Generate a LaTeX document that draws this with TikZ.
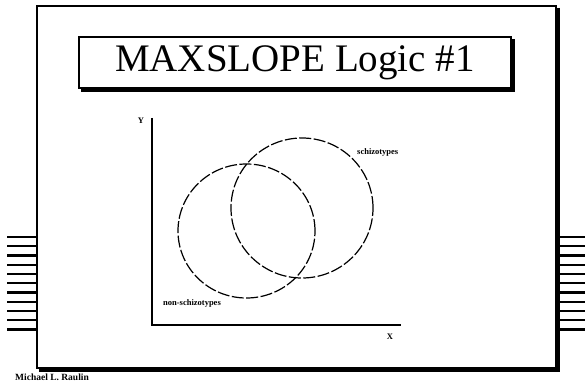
\documentclass[tikz,border=0pt]{standalone}
\usepackage{fontspec}
\setmainfont{Liberation Serif}
\usetikzlibrary{positioning,shapes.geometric}
\tikzset{
  slide/.style={draw=black, line width=2pt, inner sep=0pt},
  titlebox/.style={draw=black, line width=1.5pt, inner sep=0pt, font=\fontsize{39}{39}\selectfont},
  shadowline/.style={draw=black, line width=3pt},
  axisline/.style={draw=black, line width=2.5pt},
  groupset/.style={draw=black, ellipse, line width=1.2pt, dash pattern=on 12pt off 2.5pt, inner sep=0pt},
  tinylabel/.style={font=\fontsize{8.5}{9}\selectfont\bfseries, inner sep=0pt},
  tooth/.style={draw=black, line width=2.2pt}
}

\begin{document}
\begin{tikzpicture}[x=1pt, y=-1pt]
  \useasboundingbox (0,0) rectangle (587,385);

  % slide frame and its shadow
  \node[slide, minimum width=519pt, minimum height=362pt] (frame) at (296.5,187) {};
  \draw[shadowline] ([xshift=1.5pt, yshift=-3pt]frame.north east) -- ([xshift=1.5pt, yshift=-1.5pt]frame.south east)
    -- ([xshift=3pt, yshift=-1.5pt]frame.south west);

  % teeth on both sides
  \foreach \i in {0,...,10} {
    \draw[tooth] (7,237+9.25*\i) -- (36,237+9.25*\i);
    \draw[tooth] (558,237+9.25*\i) -- (585,237+9.25*\i);
  }

  % title
  \node[titlebox, minimum width=432pt, minimum height=51pt] (title) at (295,62.5) {MAXSLOPE Logic \#1};
  \draw[shadowline] ([xshift=1.5pt, yshift=-3pt]title.north east) -- ([xshift=1.5pt, yshift=-1.5pt]title.south east)
    -- ([xshift=3pt, yshift=-1.5pt]title.south west);

  % axes
  \coordinate (origin) at (152,325);
  \coordinate (ytop) at (152,118);
  \coordinate (xend) at (401,325);
  \draw[axisline] (ytop) -- (origin) -- (xend);
  \node[tinylabel] (ylab) at (141,121) {Y};
  \node[tinylabel] (xlab) at (390,337) {X};

  % the two groups
  \node[groupset, minimum width=137pt, minimum height=134pt] (nonschizo) at (246.5,231) {};
  \node[groupset, minimum width=142pt, minimum height=140pt] (schizo) at (302,208) {};
  \node[tinylabel, anchor=west] (schizolab) at (357,152) {schizotypes};
  \node[tinylabel, anchor=west] (nonschizolab) at (163,303) {non-schizotypes};

  % author
  \node[font=\fontsize{9.5}{10}\selectfont\bfseries, anchor=west, inner sep=0pt] (author) at (15,377) {Michael L. Raulin};
\end{tikzpicture}
\end{document}
